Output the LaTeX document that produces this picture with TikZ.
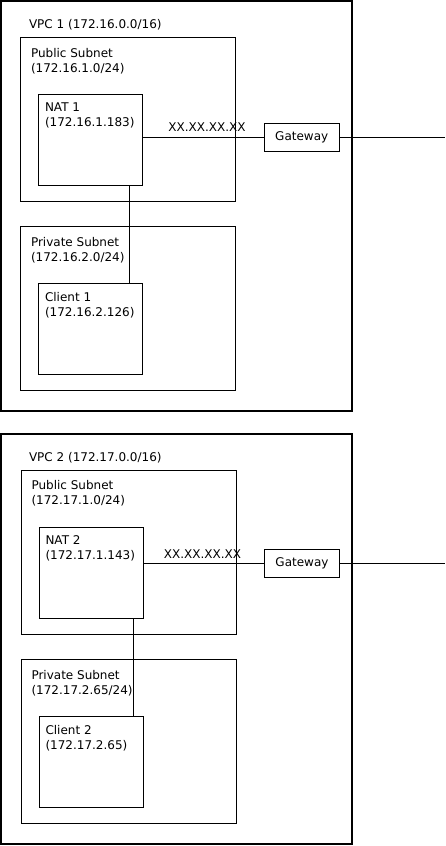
\documentclass[tikz,border=0pt]{standalone}
\usepackage{fontspec}
\setmainfont{DejaVu Sans}
\usetikzlibrary{positioning}

\tikzset{
  vpcbox/.style={draw, line width=1.6pt, inner sep=0pt, outer sep=0pt},
  netbox/.style={draw, line width=1pt, inner sep=0pt, outer sep=0pt,
    minimum width=215pt, minimum height=164pt},
  hostbox/.style={draw, line width=1pt, inner sep=0pt, outer sep=0pt,
    minimum width=104pt, minimum height=91pt},
  gwbox/.style={draw, line width=0.8pt, inner sep=0pt, outer sep=0pt,
    minimum width=75pt, minimum height=28pt, font=\fontsize{12}{15}\selectfont},
  lbl/.style={inner sep=0pt, outer sep=0pt, align=left, font=\fontsize{12}{15}\selectfont},
  addr/.style={inner sep=5.5pt, font=\fontsize{12}{15}\selectfont},
  link/.style={line width=1pt},
}

\begin{document}
\begin{tikzpicture}[x=1pt,y=-1pt]
            \useasboundingbox (0,0) rectangle (445,846);

            % VPC 1
            \node[vpcbox, minimum width=351pt, minimum height=410pt] (vpc1) at (176.5,206) {};
            \node[lbl, below right=18pt and 28pt of vpc1.north west] (vpc1lbl) {VPC 1 (172.16.0.0/16)};

            \node[netbox] (pub1) at (128,119) {};
            \node[lbl, below right=11pt and 10.5pt of pub1.north west] (pub1lbl) {Public Subnet\\(172.16.1.0/24)};
            \node[hostbox] (nat1) at (90.5,139.5) {};
            \node[lbl, below right=9pt and 6.5pt of nat1.north west] (nat1lbl) {NAT 1\\(172.16.1.183)};

            \node[netbox] (priv1) at (128,308.25) {};
            \node[lbl, below right=11pt and 10.5pt of priv1.north west] (priv1lbl) {Private Subnet\\(172.16.2.0/24)};
            \node[hostbox] (client1) at (90.5,329) {};
            \node[lbl, below right=9pt and 6.5pt of client1.north west] (client1lbl) {Client 1\\(172.16.2.126)};

            \node[gwbox] (gw1) at (301.75,137.5) {Gateway};
            \coordinate (out1) at (445,137.5);

            \draw[link] (nat1.east |- gw1) -- node[addr, above, pos=0.53] {XX.XX.XX.XX} (gw1.west);
            \draw[link] (gw1.east) -- (out1);
            \draw[link] ([xshift=-13pt]nat1.south east) -- ([xshift=-13pt]client1.north east);

            % VPC 2
            \node[vpcbox, minimum width=351pt, minimum height=410pt] (vpc2) at (176.5,639) {};
            \node[lbl, below right=18.5pt and 28pt of vpc2.north west] (vpc2lbl) {VPC 2 (172.17.0.0/16)};

            \node[netbox] (pub2) at (128.5,552) {};
            \node[lbl, below right=10.5pt and 10.5pt of pub2.north west] (pub2lbl) {Public Subnet\\(172.17.1.0/24)};
            \node[hostbox] (nat2) at (91,573) {};
            \node[lbl, below right=8.5pt and 6.5pt of nat2.north west] (nat2lbl) {NAT 2\\(172.17.1.143)};

            \node[netbox] (priv2) at (128.5,741.5) {};
            \node[lbl, below right=11pt and 10.5pt of priv2.north west] (priv2lbl) {Private Subnet\\(172.17.2.65/24)};
            \node[hostbox] (client2) at (91,761.75) {};
            \node[lbl, below right=9.5pt and 6.5pt of client2.north west] (client2lbl) {Client 2\\(172.17.2.65)};

            \node[gwbox] (gw2) at (302,563.25) {Gateway};
            \coordinate (out2) at (445,563.25);

            \draw[link] (nat2.east |- gw2) -- node[addr, above, pos=0.49, inner sep=4pt] {XX.XX.XX.XX} (gw2.west);
            \draw[link] (gw2.east) -- (out2);
            \draw[link] ([xshift=-10pt]nat2.south east) -- ([xshift=-10pt]client2.north east);
        \end{tikzpicture}
\end{document}
